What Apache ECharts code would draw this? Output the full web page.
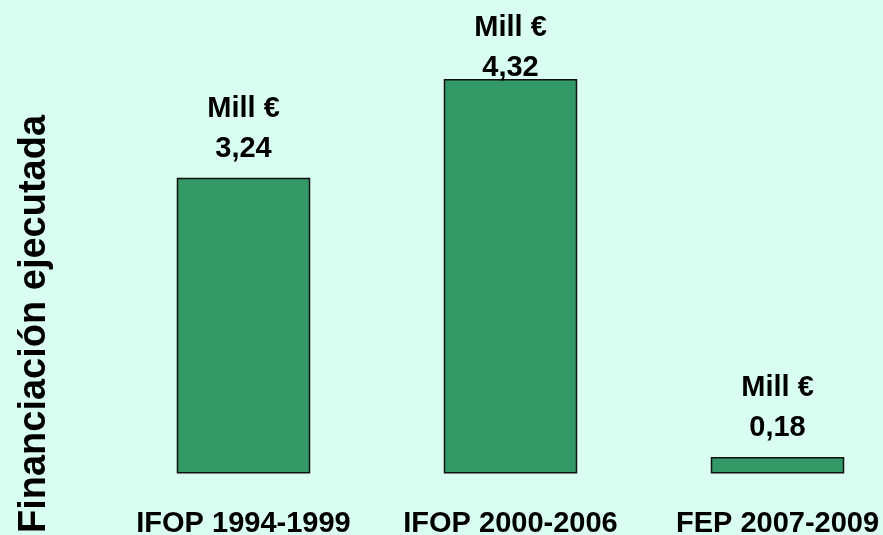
<!DOCTYPE html>
<html>
<head>
<meta charset="utf-8">
<script src="https://cdn.jsdelivr.net/npm/echarts@6/dist/echarts.min.js"></script>
<style>
html,body{margin:0;padding:0;background:#d9fdf1;}
#c{width:883px;height:535px;}
</style>
</head>
<body>
<div id="c"></div>
<script>
const categories = ['IFOP 1994-1999', 'IFOP 2000-2006', 'FEP 2007-2009'];
const values = [3.24, 4.32, 0.18];
const valueLabels = ['3,24', '4,32', '0,18'];
const unitLabel = 'Mill €';
const yTitle = 'Financiación ejecutada';

const chart = echarts.init(document.getElementById('c'));
const FONT = 'Liberation Sans, Arial, Helvetica, sans-serif';
const data = values.map((v, i) => ({
  value: v,
  label: i === 1 ? { offset: [0, 18] } : {}
}));
chart.setOption({
  backgroundColor: '#d9fdf1',
  animation: false,
  grid: { left: 110, width: 801, top: 17, bottom: 61.5, containLabel: false, outerBoundsMode: 'none' },
  xAxis: {
    type: 'category',
    data: categories,
    axisLine: { show: false },
    axisTick: { show: false },
    axisLabel: { color: '#000', fontFamily: FONT, fontWeight: 'bold', fontSize: 29, margin: 36, interval: 0 }
  },
  yAxis: {
    type: 'value', min: 0, max: 5, show: false, splitLine: { show: false }
  },
  series: [{
    type: 'bar',
    data: data,
    barWidth: '50%',
    itemStyle: { color: '#339966', borderColor: '#111', borderWidth: 1.5 },
    label: {
      show: true,
      position: 'top',
      distance: 9,
      color: '#000',
      fontFamily: FONT,
      fontWeight: 'bold',
      fontSize: 29,
      lineHeight: 40,
      formatter: p => unitLabel + '\n' + valueLabels[p.dataIndex]
    }
  }],
  graphic: [{
    type: 'text',
    x: 35,
    y: 324,
    rotation: Math.PI / 2,
    style: {
      text: yTitle,
      fill: '#000',
      font: 'bold 38px ' + FONT,
      textAlign: 'center',
      textVerticalAlign: 'middle'
    }
  }]
});
</script>
</body>
</html>
